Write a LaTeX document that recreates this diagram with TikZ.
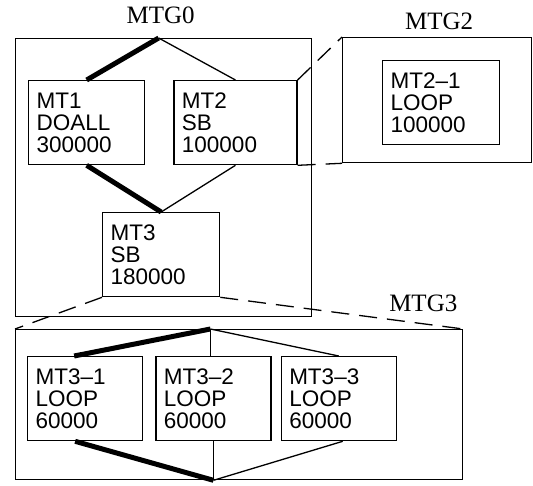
\documentclass[tikz,border=0pt]{standalone}
\usepackage{fontspec}
\setmainfont{Liberation Serif}
\newfontfamily\helv{Liberation Sans}
\usetikzlibrary{positioning, calc}
\tikzset{
  every picture/.style={line width=1.3pt},
  group/.style={draw, anchor=north west, inner sep=0pt},
  task/.style={draw, anchor=north west, align=left, text width=#1, inner xsep=8pt, inner ysep=0pt,
               minimum height=84pt, font=\helv\fontsize{22.5}{22}\selectfont},
  task/.default=101pt,
  heavy/.style={line width=5pt},
  light/.style={line width=1.3pt},
  zoomline/.style={line width=1.3pt, dash pattern=on 18pt off 10pt},
  title/.style={font=\fontsize{25}{26}\selectfont, anchor=base},
}
\begin{document}
\begin{tikzpicture}[x=1pt, y=-1pt]
  \useasboundingbox (0,0) rectangle (533,485);
  % ---- MTG0 (top left) ----
  \node[group, minimum width=296pt, minimum height=278pt] (mtg0) at (15,38) {};
  \node[title] at ([xshift=-3pt, yshift=15pt]mtg0.north) {MTG0};
  \node[task=100pt] (mt1) at (28,80) {MT1\\DOALL\\300000};
  \node[task=107pt, right=28pt of mt1] (mt2) {MT2\\SB\\100000};
  \node[task] (mt3) at (102,212) {MT3\\SB\\180000};
  \coordinate (top0) at ([xshift=-5pt]mtg0.north);
  \draw[heavy] (top0) -- (mt1.north);
  \draw[light] (top0) -- (mt2.north);
  \draw[heavy] (mt1.south) -- (mt3.north);
  \draw[light] (mt2.south) -- (mt3.north);
  % ---- MTG2 (top right) ----
  \node[group, minimum width=189pt, minimum height=125pt] (mtg2) at (342,37) {};
  \node[title] at ([xshift=2pt, yshift=8pt]mtg2.north) {MTG2};
  \node[task] (mt21) at (382,60) {MT2–1\\LOOP\\100000};
  \draw[zoomline] (mt2.north east) -- (mtg2.north west);
  \draw[zoomline] (mt2.south east) -- (mtg2.south west);
  % ---- MTG3 (bottom) ----
  \node[group, minimum width=447pt, minimum height=150pt] (mtg3) at (15,329) {};
  \node[title, anchor=base east] at ([xshift=-2pt, yshift=18pt]mtg3.north east) {MTG3};
  \node[task=99pt] (mt31) at (27,356) {MT3–1\\LOOP\\60000};
  \node[task=99pt, right=12pt of mt31] (mt32) {MT3–2\\LOOP\\60000};
  \node[task=99pt, right=9pt of mt32] (mt33) {MT3–3\\LOOP\\60000};
  \coordinate (top3) at ([xshift=-3pt]mt32.north |- mtg3.north);
  \coordinate (bot3) at (mt32.south |- mtg3.south);
  \draw[heavy] (top3) -- ([xshift=-11pt]mt31.north);
  \draw[light] (top3) -- ([xshift=-3pt]mt32.north);
  \draw[light] (top3) -- (mt33.north);
  \draw[heavy] ([xshift=-10pt]mt31.south) -- (bot3);
  \draw[light] (mt32.south) -- (bot3);
  \draw[light] ([xshift=4pt]mt33.south) -- (bot3);
  \draw[zoomline] (mt3.south west) -- (mtg3.north west);
  \draw[zoomline] (mt3.south east) -- (mtg3.north east);
\end{tikzpicture}
\end{document}
